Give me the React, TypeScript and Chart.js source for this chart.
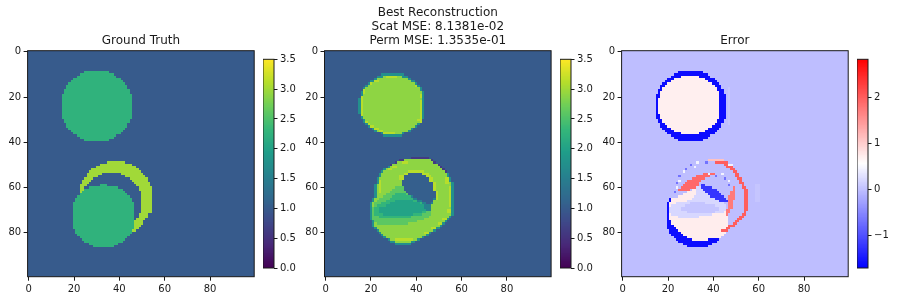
import React, { useEffect, useRef } from "react";
import { Chart, registerables } from "chart.js";

Chart.register(...registerables);

type Span = [number, number, number, number]; // rowFrom, rowTo, colFrom, colTo
type Layer = [Span[], number];

const axisTicks = [0, 20, 40, 60, 80];
const viridisTicks = [0, 0.5, 1, 1.5, 2, 2.5, 3, 3.5];
const errorTicks = [-1, 0, 1, 2];
const viridisStops = ["#440154", "#482878", "#3e4989", "#31688e", "#26828e", "#1f9e89", "#35b779", "#6ece58", "#b5de2b", "#fde725"];

const truthCircleA: Span[] = [[9,9,25,35],[10,10,23,37],[11,11,22,38],[12,12,20,40],[13,13,19,41],[14,14,18,42],[15,16,17,43],[17,18,16,44],[19,29,15,45],[30,31,16,44],[32,33,17,43],[34,34,18,42],[35,35,19,41],[36,36,20,40],[37,37,22,38],[38,38,23,37],[39,39,25,35]];
const truthRing: Span[] = [[49,49,35,42],[50,50,32,45],[51,51,30,47],[52,52,28,48],[53,53,27,49],[54,54,26,32],[54,54,41,50],[55,55,26,30],[55,55,43,51],[56,56,25,28],[56,56,45,52],[57,57,24,27],[57,57,46,52],[58,58,24,26],[58,58,47,53],[59,59,23,25],[59,59,48,53],[60,61,23,24],[60,61,49,54],[62,64,23,23],[62,71,50,54],[72,73,49,52],[74,74,48,51],[75,76,47,50],[77,77,46,49],[78,78,46,48],[79,79,46,47]];
const truthCircleB: Span[] = [[59,59,32,34],[60,60,27,39],[61,61,25,41],[62,62,24,42],[63,63,23,43],[64,64,22,44],[65,66,21,45],[67,78,20,46],[79,80,21,45],[81,81,22,44],[82,82,23,43],[83,83,24,42],[84,84,25,41],[85,85,27,39],[86,86,29,37]];

const reconFringeA: Span[] = [[10,10,25,34],[11,11,23,36],[12,12,22,37],[13,13,20,39],[14,14,19,40],[15,15,18,41],[16,17,17,42],[18,20,16,43],[21,27,15,43],[28,29,16,43],[30,31,17,42],[32,32,18,41],[33,33,19,40],[34,34,21,38],[35,35,22,37],[36,36,25,34],[37,37,26,33]];
const reconBodyA: Span[] = [[11,11,26,33],[12,12,23,36],[13,13,22,37],[14,14,20,39],[15,15,19,40],[16,17,18,41],[18,20,17,42],[21,27,16,42],[28,29,17,42],[30,31,18,41],[32,32,19,40],[33,33,20,39],[34,34,22,37],[35,35,23,36],[36,36,26,33]];
const reconRimA: Span[] = [[20,28,16,16],[22,31,42,42],[19,20,42,42],[15,15,40,40],[13,13,22,23],[14,14,20,20],[31,31,18,18],[32,32,19,19],[33,33,20,21],[34,34,22,23],[35,35,24,25],[36,36,26,30],[11,11,27,31],[17,18,17,17],[30,30,41,41]];
const reconFringeB: Span[] = [[48,48,34,47],[49,49,31,48],[50,50,29,50],[51,51,28,51],[52,52,26,52],[53,53,25,53],[54,55,24,54],[56,57,23,55],[58,58,23,56],[59,64,22,56],[65,66,21,56],[67,72,20,56],[73,73,20,55],[74,74,20,54],[75,75,21,53],[76,76,21,52],[77,77,21,51],[78,78,22,50],[79,79,23,48],[80,80,24,46],[81,81,25,45],[82,82,26,43],[83,83,28,41],[84,84,29,39],[85,85,31,37]];
const reconDarkEdge: Span[] = [[47,47,38,45],[48,48,33,47],[49,49,31,48],[50,50,29,50],[51,51,50,51],[52,52,51,52],[53,53,52,53]];
const reconBodyB: Span[] = [[48,48,35,46],[49,49,32,47],[50,50,30,49],[51,51,29,50],[52,52,27,51],[53,53,26,52],[54,55,25,53],[56,57,24,54],[58,58,24,55],[59,64,23,55],[65,66,22,55],[67,72,21,55],[73,73,21,54],[74,74,21,53],[75,75,22,52],[76,76,22,51],[77,77,22,50],[78,78,23,48],[79,79,24,47],[80,80,25,45],[81,81,26,44],[82,82,27,42],[83,83,29,40],[84,84,31,37]];
const reconGreen: Span[] = [[60,60,31,34],[61,61,30,35],[62,62,29,36],[63,63,27,37],[64,64,26,39],[65,65,24,41],[66,66,23,43],[67,67,22,44],[68,68,22,45],[69,72,21,46],[73,73,21,45],[74,74,21,43],[75,75,22,40],[76,76,23,36]];
const reconTeal: Span[] = [[63,63,31,35],[64,64,30,37],[65,65,29,39],[66,66,27,41],[67,67,25,43],[68,68,23,45],[69,70,22,45],[71,71,22,44],[72,72,22,42],[73,73,24,37]];
const reconCore: Span[] = [[66,66,31,38],[67,67,29,41],[68,68,27,43],[69,70,24,44],[71,71,24,42],[72,72,26,38]];
const reconHoleEdge: Span[] = [[64,64,38,48],[65,65,39,48],[66,66,41,47],[67,67,43,47],[68,69,44,46],[70,70,45,46]];
const reconHole: Span[] = [[54,54,37,42],[55,55,35,44],[56,56,34,45],[57,57,34,46],[58,59,34,47],[60,61,35,48],[62,62,36,48],[63,63,37,48],[64,64,39,48],[65,65,41,47],[66,66,43,47],[67,67,45,46]];
const reconRimB: Span[] = [[57,62,24,24],[52,52,28,29],[51,51,30,31],[49,49,34,36],[56,58,53,54],[60,68,55,55],[70,71,54,55],[74,74,52,53],[76,76,50,51],[78,78,47,48],[80,80,44,45],[53,53,37,43],[54,54,35,36],[54,54,43,45],[55,55,45,46],[56,57,46,47],[58,61,48,48],[55,56,33,34],[62,65,49,49],[83,83,31,38]];

const errorCover: Span[] = [[59,64,21,46],[65,72,41,47]];
const errorWhite: Span[] = [[60,60,31,33],[61,61,31,34],[62,62,29,34],[63,63,27,35],[64,64,25,36],[65,66,22,40],[67,67,21,42],[68,68,21,44],[69,69,21,45],[70,74,21,46],[75,76,22,46],[77,77,23,46],[78,78,24,45],[79,79,25,45],[80,80,26,45],[81,81,27,44],[82,82,29,43],[83,83,31,37]];
const errorMid: Span[] = [[60,60,33,35],[61,61,33,36],[62,62,33,37],[63,63,33,38],[64,64,32,39],[65,65,31,41],[66,66,29,42],[67,67,24,44],[68,68,22,45],[69,69,21,45],[70,70,21,46],[71,71,21,44],[72,72,22,39],[73,73,25,33]];
const errorInner: Span[] = [[67,67,30,36],[68,68,28,40],[69,70,26,42],[71,71,29,40]];
const errorBluePatch: Span[] = [[59,59,35,36],[60,60,35,39],[61,61,36,41],[62,62,37,42],[63,63,38,43],[64,64,39,44],[65,65,41,45],[66,66,43,46]];
const errorCrescentRight: Span[] = [[60,61,49,49],[62,63,48,49],[64,65,47,49],[66,69,47,48],[70,71,46,47],[72,72,46,46]];
const errorCrescentLeft: Span[] = [[54,54,36,40],[55,55,33,38],[56,56,31,36],[57,57,29,34],[58,58,28,33],[59,59,27,33],[60,60,26,32],[61,61,25,29]];
const errorRimPale: Span[] = [[48,48,38,44]];
const errorRimRed: Span[] = [[49,49,41,46],[50,50,45,47],[51,51,46,48],[52,52,48,49],[53,53,49,50],[54,55,50,51],[56,56,51,52],[57,57,52,52],[58,58,52,53],[59,59,53,53],[60,60,53,54],[61,70,54,55],[71,71,54,54],[72,72,53,54],[73,73,52,53],[74,74,51,52],[75,75,50,51],[76,76,49,50],[77,77,47,49],[78,78,46,47],[79,79,44,46]];
const errorDotsBlue: Span[] = [[50,50,30,30],[52,52,28,28],[49,49,37,37],[55,55,25,25],[58,58,24,24],[56,56,45,45],[59,59,47,47],[62,62,23,23],[55,55,41,41]];
const errorDotsWhite: Span[] = [[49,49,33,33],[51,51,32,32],[53,53,27,27],[54,54,44,44],[57,57,25,25],[60,60,24,24],[54,54,38,38],[57,57,47,47],[50,50,47,48]];
const errorGhost: Span[] = [[59,66,59,60],[16,32,47,47]];

const truthLayers: Layer[] = [[truthRing, 3.0], [truthCircleA, 2.25], [truthCircleB, 2.25]];
const reconLayers: Layer[] = [
  [reconFringeA, 1.75], [reconBodyA, 2.9], [reconRimA, 3.12],
  [reconFringeB, 1.75], [reconDarkEdge, 0.6], [reconBodyB, 2.9], [reconGreen, 2.6], [reconTeal, 2.3], [reconCore, 2.02],
  [reconHoleEdge, 1.55], [reconHole, 1.05], [reconRimB, 3.12],
];
const errorLayers: Layer[] = [
  [errorGhost, 0.04], [truthCircleA, -1.6], [reconBodyA, 0.7],
  [truthCircleB, -1.6], [errorCover, -0.02], [errorWhite, 0.72], [errorMid, 0.2], [errorInner, 0.04],
  [errorBluePatch, -1.25], [errorCrescentRight, 1.75], [errorCrescentLeft, 1.9],
  [errorRimPale, 1.1], [errorRimRed, 2.0], [errorDotsBlue, -0.7], [errorDotsWhite, 0.45],
];

const hex = (h: string) => [1, 3, 5].map((i) => parseInt(h.slice(i, i + 2), 16));
const viridis = (v: number) => {
  const t = Math.max(0, Math.min(1, v / 3.5)) * (viridisStops.length - 1);
  const i = Math.min(viridisStops.length - 2, Math.floor(t));
  const a = hex(viridisStops[i]), b = hex(viridisStops[i + 1]);
  return `rgb(${a.map((c, k) => Math.round(c + (b[k] - c) * (t - i))).join(",")})`;
};
const ERR_MIN = -1.72, ERR_MAX = 2.836;
const bwr = (v: number) => {
  const t = (v - ERR_MIN) / (ERR_MAX - ERR_MIN);
  if (t < 0.5) { const c = Math.round(510 * t); return `rgb(${c},${c},255)`; }
  const c = Math.round(510 * (1 - t));
  return `rgb(255,${c},${c})`;
};

const FONT = "'DejaVu Sans'";
const INK = "#1a1a1a";

const framePlugin = {
  id: "frame",
  afterDraw(chart: any) {
    const { ctx, chartArea: a } = chart;
    ctx.save();
    ctx.strokeStyle = INK;
    ctx.lineWidth = 1;
    ctx.strokeRect(a.left, a.top, a.right - a.left, a.bottom - a.top);
    ctx.restore();
  },
};

const basePlugin = (fill: string) => ({
  id: "base",
  beforeDatasetsDraw(chart: any) {
    const { ctx, chartArea: a } = chart;
    ctx.save();
    ctx.fillStyle = fill;
    ctx.fillRect(a.left, a.top, a.right - a.left, a.bottom - a.top);
    ctx.restore();
  },
});

// Rounds the bars the library has laid out to whole pixels, so that rows join without seams.
const snapPlugin = {
  id: "snap",
  afterDatasetsUpdate(chart: any) {
    for (const el of chart.getDatasetMeta(0).data) {
      const top = Math.round(el.y - el.height / 2);
      const bottom = Math.round(el.y + el.height / 2);
      el.y = (top + bottom) / 2;
      el.height = bottom - top;
      el.x = Math.round(el.x);
      el.base = Math.round(el.base);
    }
  },
};

const setTicks = (values: number[]) => (scale: any) => {
  scale.ticks = values.map((value) => ({ value }));
};
const tickStyle = (tickLength: number) => ({
  display: true, offset: false, drawOnChartArea: false, drawTicks: true, tickLength, tickColor: INK, tickWidth: 1,
});

function heatConfig(layers: Layer[], color: (v: number) => string, baseValue: number, title: string[], yWidth: number, width: number) {
  const data: any[] = [];
  const colors: string[] = [];
  for (const [spans, value] of layers) {
    for (const [r0, r1, c0, c1] of spans) {
      for (let r = r0; r <= r1; r++) { data.push({ x: [c0 - 0.5, c1 + 0.5], y: r }); colors.push(color(value)); }
    }
  }
  const ticks = { font: { family: FONT, size: 10 }, color: INK, padding: 2.5, autoSkip: false, maxRotation: 0 };
  return {
    type: "bar",
    data: { datasets: [{ data, backgroundColor: colors, barPercentage: 1, categoryPercentage: 1, borderWidth: 0, inflateAmount: 0 }] },
    options: {
      indexAxis: "y", animation: false, responsive: false, maintainAspectRatio: false,
      layout: { padding: { left: 0, right: width - yWidth - 226.6, top: 0, bottom: 0 } },
      plugins: {
        legend: { display: false }, tooltip: { enabled: false },
        title: {
          display: true, text: title, fullSize: false, color: INK,
          font: { family: FONT, size: 12, weight: "normal", lineHeight: 14 / 12 },
          padding: { top: 50.7 - 3 - title.length * 14, bottom: 3 },
        },
      },
      scales: {
        x: {
          type: "linear", offset: false, min: -0.5, max: 99.5, afterBuildTicks: setTicks(axisTicks),
          afterFit: (s: any) => { s.height = 25.3; },
          grid: tickStyle(4), border: { display: false }, ticks,
        },
        y: {
          type: "linear", offset: false, reverse: true, min: -0.5, max: 99.5, afterBuildTicks: setTicks(axisTicks),
          afterFit: (s: any) => { s.width = yWidth; },
          grid: tickStyle(4), border: { display: false }, ticks,
        },
      },
    },
    plugins: [snapPlugin, basePlugin(color(baseValue)), framePlugin],
  };
}

function barConfig(color: (v: number) => string, min: number, max: number, tickValues: number[], fmt: (v: number) => string) {
  const data: any[] = [];
  const colors: string[] = [];
  const steps = 256;
  for (let i = 0; i < steps; i++) {
    const v = min + ((i + 0.5) * (max - min)) / steps;
    data.push({ x: [0, 1], y: v });
    colors.push(color(v));
  }
  return {
    type: "bar",
    data: { datasets: [{ data, backgroundColor: colors, barPercentage: 1, categoryPercentage: 1, borderWidth: 0, inflateAmount: 0 }] },
    options: {
      indexAxis: "y", animation: false, responsive: false, maintainAspectRatio: false,
      layout: { padding: { left: 0, right: 0, top: 59.3, bottom: 34 } },
      plugins: { legend: { display: false }, tooltip: { enabled: false }, title: { display: false } },
      scales: {
        x: { type: "linear", min: 0, max: 1, display: false },
        y: {
          type: "linear", offset: false, position: "right", min, max, afterBuildTicks: setTicks(tickValues),
          afterFit: (s: any) => { s.width = 29; },
          grid: tickStyle(3.5), border: { display: false },
          ticks: { font: { family: FONT, size: 10 }, color: INK, padding: 2.5, autoSkip: false, callback: (v: number) => fmt(v) },
        },
      },
    },
    plugins: [snapPlugin, framePlugin],
  };
}

function Canvas({ config, left, width }: { config: () => any; left: number; width: number }) {
  const ref = useRef<HTMLCanvasElement>(null);
  useEffect(() => {
    const chart = new Chart(ref.current as HTMLCanvasElement, config());
    return () => chart.destroy();
  }, []);
  return <canvas ref={ref} width={width} height={302} style={{ position: "absolute", left, top: 0, width, height: 302 }} />;
}

const fmtOne = (v: number) => v.toFixed(1);
const fmtInt = (v: number) => (v < 0 ? "\u2212" + Math.abs(v) : String(v));

export default function App() {
  return (
    <div style={{ position: "absolute", left: 0, top: 0, width: 897, height: 302, background: "#fff", overflow: "hidden" }}>
      <Canvas left={0} width={258} config={() => heatConfig(truthLayers, viridis, 1.0, ["Ground Truth"], 27.6, 258)} />
      <Canvas left={296} width={258} config={() => heatConfig(reconLayers, viridis, 1.0, ["Best Reconstruction", "Scat MSE: 8.1381e-02", "Perm MSE: 1.3535e-01"], 28.5, 258)} />
      <Canvas left={593} width={258} config={() => heatConfig(errorLayers, bwr, -0.02, ["Error"], 28.6, 258)} />
      <Canvas left={263} width={40} config={() => barConfig(viridis, 0, 3.5, viridisTicks, fmtOne)} />
      <Canvas left={560} width={40} config={() => barConfig(viridis, 0, 3.5, viridisTicks, fmtOne)} />
      <Canvas left={857} width={40} config={() => barConfig(bwr, ERR_MIN, ERR_MAX, errorTicks, fmtInt)} />
    </div>
  );
}
